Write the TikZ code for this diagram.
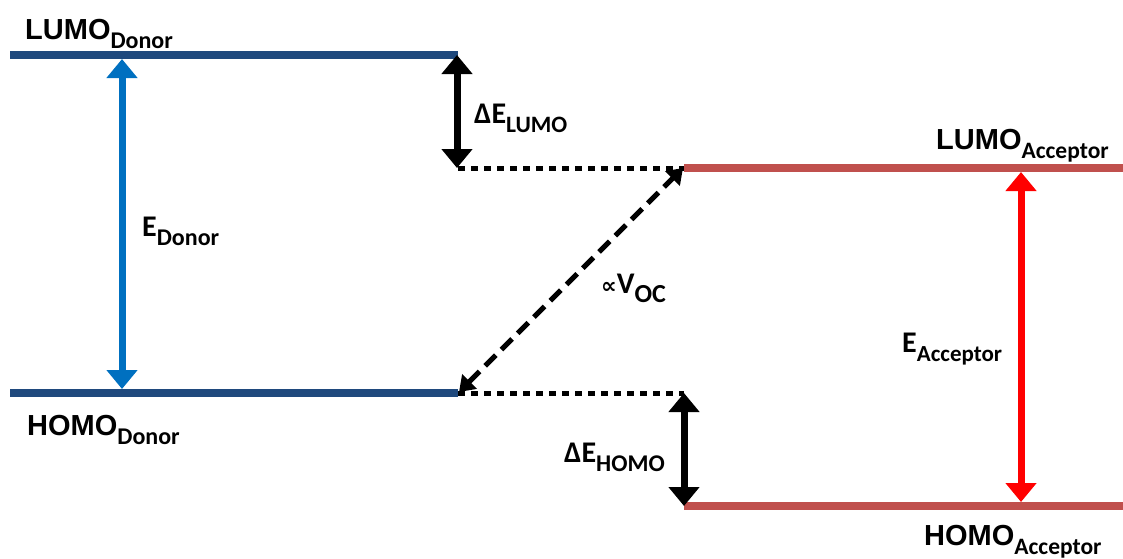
\documentclass[tikz,border=0pt]{standalone}
\usepackage{fontspec}
\setmainfont{Carlito}
\newfontfamily\headfont{Liberation Sans}
\newfontfamily\symfont{DejaVu Sans}
\usetikzlibrary{arrows.meta}

\definecolor{donorline}{HTML}{1F497D}
\definecolor{acceptorline}{HTML}{C0504D}
\definecolor{donorarrow}{HTML}{0070C0}
\definecolor{acceptorarrow}{HTML}{FF0000}

% level name: large sans capitals with a lowered subscript
\newcommand\levelname[3]{{\headfont\bfseries\fontsize{29}{29}\selectfont #1}{\bfseries\fontsize{#3}{#3}\selectfont\raisebox{-9pt}{#2}}}
% energy label: main symbol with a lowered subscript
\newcommand\energylabel[3]{{\bfseries\fontsize{30}{30}\selectfont #1}{\bfseries\fontsize{#3}{#3}\selectfont\raisebox{-9pt}{#2}}}

\tikzset{
  level/.style={line width=8pt},
  donorlevel/.style={level, donorline},
  acceptorlevel/.style={level, acceptorline},
  offsetline/.style={line width=5pt, dash pattern=on 7pt off 6pt},
  gaparrow/.style={line width=7pt, {Triangle[width=30pt,length=19pt]}-{Triangle[width=30pt,length=19pt]}},
  vocarrow/.style={line width=5pt, dash pattern=on 15pt off 8pt,
    {Triangle[width=20pt,length=15pt]}-{Triangle[width=20pt,length=15pt]}},
  tag/.style={anchor=base west, inner sep=0pt, text=black},
}

\begin{document}
\begin{tikzpicture}[x=1pt,y=-1pt]
  \useasboundingbox (0,0) rectangle (1123,558);

  % energy levels
  \coordinate (dl1) at (10,55);   \coordinate (dl2) at (458,55);
  \coordinate (dh1) at (10,393);  \coordinate (dh2) at (458,393);
  \coordinate (al1) at (684,168); \coordinate (al2) at (1123,168);
  \coordinate (ah1) at (684,506); \coordinate (ah2) at (1123,506);

  \draw[donorlevel] (dl1) -- (dl2);
  \draw[donorlevel] (dh1) -- (dh2);
  \draw[acceptorlevel] (al1) -- (al2);
  \draw[acceptorlevel] (ah1) -- (ah2);

  % dotted continuations of the donor levels
  \draw[offsetline] (dl2 |- al1) -- (al1);
  \draw[offsetline] (dh2) -- (ah1 |- dh2);

  % band gap arrows
  \coordinate (edtop) at (122,59);   \coordinate (edbot) at (122,389);
  \coordinate (eatop) at (1021,172); \coordinate (eabot) at (1021,502);
  \draw[gaparrow, donorarrow] (edbot) -- (edtop);
  \draw[gaparrow, acceptorarrow] (eabot) -- (eatop);

  % level offsets
  \coordinate (lutop) at (457,55);  \coordinate (lubot) at (457,168);
  \coordinate (hotop) at (684,393); \coordinate (hobot) at (684,506);
  \draw[gaparrow] (lubot) -- (lutop);
  \draw[gaparrow] (hobot) -- (hotop);

  % open-circuit voltage
  \coordinate (vtop) at (683,168); \coordinate (vbot) at (459,392);
  \draw[vocarrow] (vbot) -- (vtop);

  % labels
  \node[tag] (lumod) at (25,39)   {\levelname{LUMO}{Donor}{24}};
  \node[tag] (homod) at (27,435)  {\levelname{HOMO}{Donor}{24}};
  \node[tag] (lumoa) at (936,149) {\levelname{LUMO}{Acceptor}{23.5}};
  \node[tag] (homoa) at (924,545) {\levelname{HOMO}{Acceptor}{23.5}};
  \node[tag] (ed)    at (142,236) {\energylabel{E}{Donor}{24}};
  \node[tag] (ea)    at (902,352) {\energylabel{E}{Acceptor}{23}};
  \node[tag] (dlumo) at (474,123) {\energylabel{ΔE}{LUMO}{23.5}};
  \node[tag] (dhomo) at (564,462) {\energylabel{ΔE}{HOMO}{24}};
  \node[tag] (voc)   at (601,293) {{\symfont\bfseries\fontsize{22}{22}\selectfont ∝}\energylabel{V}{OC}{26}};
\end{tikzpicture}
\end{document}
